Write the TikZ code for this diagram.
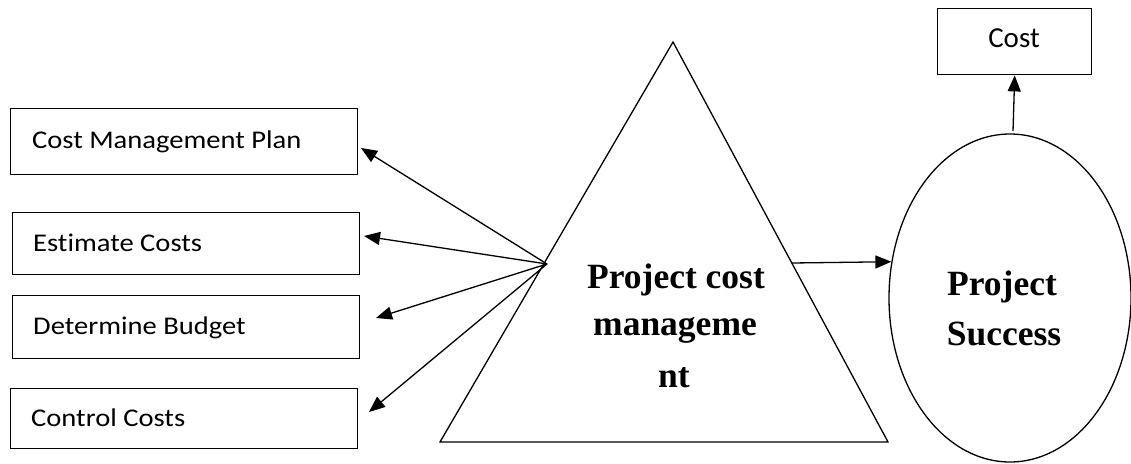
\documentclass[tikz,border=0pt]{standalone}
\usepackage{fontspec}
\usetikzlibrary{arrows.meta,shapes.geometric}
\newfontfamily\boxfont[FakeStretch=1.12,Ligatures=NoCommon]{Carlito}
\newfontfamily\costfont{Carlito}
\newfontfamily\serifbf{Liberation Serif}
\tikzset{
  frame/.style={draw, line width=1.4pt, rectangle, inner sep=0pt, anchor=north west},
  boxtext/.style={anchor=base west, inner sep=0pt, font=\boxfont\fontsize{25.5}{30}\selectfont},
  bigtext/.style={anchor=base, inner sep=0pt, font=\serifbf\bfseries\fontsize{35.5}{42}\selectfont},
  conn/.style={line width=1.3pt, -{Triangle[length=16pt,width=13pt]}},
}
\begin{document}
\begin{tikzpicture}[x=1pt,y=-1pt]
\useasboundingbox (0,0) rectangle (1131,463);
% left boxes
\node[frame, minimum width=347pt, minimum height=66pt] (b1) at (10,108) {};
\node[frame, minimum width=347pt, minimum height=62pt] (b2) at (12,212) {};
\node[frame, minimum width=347pt, minimum height=63pt] (b3) at (12,295) {};
\node[frame, minimum width=347pt, minimum height=60pt] (b4) at (10,388) {};
\node[boxtext] (t1) at (32,148) {Cost Management Plan};
\node[boxtext] (t2) at (33,251) {Estimate Costs};
\node[boxtext] (t3) at (33,334) {Determine Budget};
\node[boxtext] (t4) at (31,426) {Control Costs};
% cost box
\node[frame, minimum width=154pt, minimum height=66pt] (cb) at (937,8) {};
\node[anchor=base, inner sep=0pt, font=\costfont\fontsize{29}{34}\selectfont] (ct) at (1014,47) {Cost};
% triangle
\coordinate (ta) at (673,42);
\coordinate (tl) at (440,442);
\coordinate (tr) at (888,442);
\draw[line width=1.3pt] (ta) -- (tl) -- (tr) -- cycle;
\node[bigtext] (pc1) at (676,288) {Project cost};
\node[bigtext] (pc2) at (675,335) {manageme};
\node[bigtext] (pc3) at (674,387) {nt};
% ellipse
\node[draw, ellipse, line width=1.3pt, minimum width=242pt, minimum height=328pt, inner sep=0pt] (ps) at (1010,298) {};
\node[bigtext] (ps1) at (1002,295) {Project};
\node[bigtext] (ps2) at (1004,345) {Success};
% connectors
\coordinate (src) at (547,264);
\coordinate (a1) at (361,148);
\coordinate (a2) at (364,236);
\coordinate (a3) at (376,318);
\coordinate (a4) at (369,412);
\draw[conn] (src) -- (a1);
\draw[conn] (src) -- (a2);
\draw[conn] (src) -- (a3);
\draw[conn] (src) -- (a4);
\coordinate (h0) at (792,263);
\draw[conn] (h0) -- (ps.163.5);
\coordinate (v0) at (1013,131);
\draw[conn] (v0) -- (cb.south);
\end{tikzpicture}
\end{document}
